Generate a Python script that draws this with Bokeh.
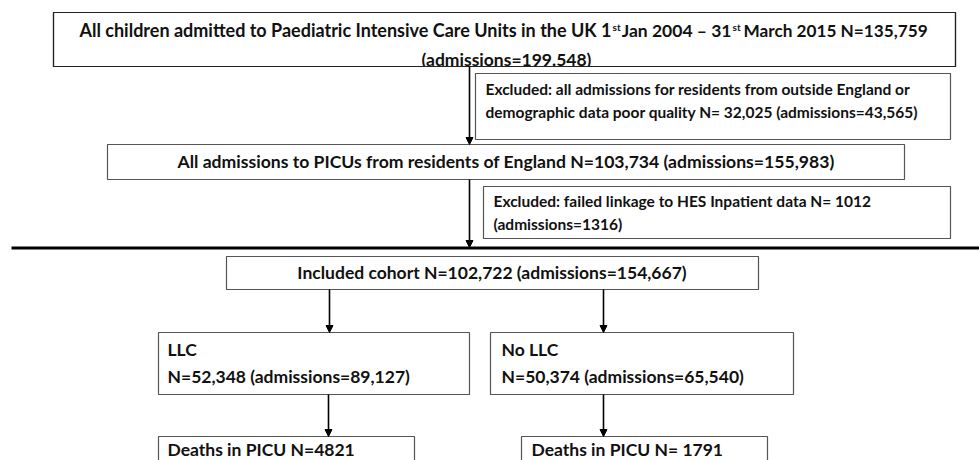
from bokeh.plotting import figure
from bokeh.models import Range1d, Arrow, NormalHead, ColumnDataSource
from bokeh.core.properties import value
from bokeh.embed import file_html
from bokeh.resources import INLINE

# ---- chart content (texts of the flow chart) ----
title_parts = ["All children admitted to Paediatric Intensive Care Units in the UK 1",
               "st", "Jan 2004 \u2013 31", "st", "March 2015 N=135,759"]
title_line2 = "(admissions=199.548)"
excluded_1 = ["Excluded: all admissions for residents from outside England or",
              "demographic data poor quality N= 32,025 (admissions=43,565)"]
england = "All admissions to PICUs from residents of England N=103,734 (admissions=155,983)"
excluded_2 = ["Excluded: failed linkage to HES Inpatient data N= 1012",
              "(admissions=1316)"]
included = "Included cohort N=102,722 (admissions=154,667)"
groups = ["LLC", "No LLC"]
group_counts = ["N=52,348 (admissions=89,127)", "N=50,374 (admissions=65,540)"]
deaths = ["Deaths in PICU N=4821", "Deaths in PICU N= 1791"]

# ---- layout (window pixel coordinates) ----
W, H = 979, 460
FONT = value("Lato")
INK = "#111111"

p = figure(width=W, height=H, x_range=Range1d(0, W), y_range=Range1d(H, 0),
           output_backend="svg", toolbar_location=None, x_axis_type=None, y_axis_type=None,
           min_border=0, outline_line_color=None, background_fill_color="white")

box_l = [53, 475, 107, 483, 226, 158, 490, 158, 521]
box_r = [955, 950, 904, 950, 758, 469, 793, 414, 767]
box_t = [12, 73, 144, 186, 256, 332, 332, 436, 436]
box_b = [66, 139, 179, 238, 289, 394, 394, 490, 490]
box_c = ["#222222"] + ["#555555"] * 8
p.quad(left=box_l, right=box_r, top=box_t, bottom=box_b, fill_color="white",
       line_color=box_c, line_width=1.2)

def txt(x, y, t, size=17.5, align="left"):
    # y is the wanted baseline; the svg text sits ~0.4em lower, so lift it
    yy = [v - 0.4 * size for v in y]
    p.text(x=x, y=yy, text=t, text_font=FONT, text_font_style="bold",
           text_font_size=f"{size}px", text_color=INK, text_baseline="alphabetic",
           text_align=align)

# title, line 1 with superscripts
txt([611], [37], [title_parts[0]], size=18, align="right")
txt([612], [30], [title_parts[1]], size=10)
txt([731], [37], [title_parts[2]], size=17.5, align="right")
txt([732], [30], [title_parts[3]], size=10)
txt([743], [37], [title_parts[4]], size=17.2)
# title, line 2 (clipped by the box bottom)
txt([506], [66], [title_line2], size=17.5, align="center")
p.quad(left=[400], right=[620], top=[66.6], bottom=[72.5], fill_color="white", line_color=None)
p.quad(left=[53], right=[955], top=[12], bottom=[66], fill_color=None,
       line_color="#222222", line_width=1.2)

txt([485, 485], [95, 117.5], excluded_1, size=15.5)
txt([505.5], [168], [england], size=17.6, align="center")
txt([493, 493], [206.5, 230], excluded_2, size=15.5)
txt([491.5], [279], [included], align="center")
txt([167, 501], [356, 356], groups)
txt([167, 501], [383, 383], group_counts)
txt([167, 531], [456, 456], deaths)

# thick separator line
p.segment(x0=[11], y0=[247.5], x1=[985], y1=[247.5], line_color="black", line_width=3)

arrows = ColumnDataSource(dict(
    x=[469, 469, 329, 603, 328, 603],
    y0=[66, 179, 289, 289, 394, 394],
    y1=[144, 247, 332, 332, 436, 436],
))
p.add_layout(Arrow(end=NormalHead(size=7, fill_color="black", line_color="black", line_width=1),
                   x_start="x", y_start="y0", x_end="x", y_end="y1",
                   line_color="black", line_width=1.6, source=arrows))

open("out.html", "w").write(file_html(p, INLINE))
